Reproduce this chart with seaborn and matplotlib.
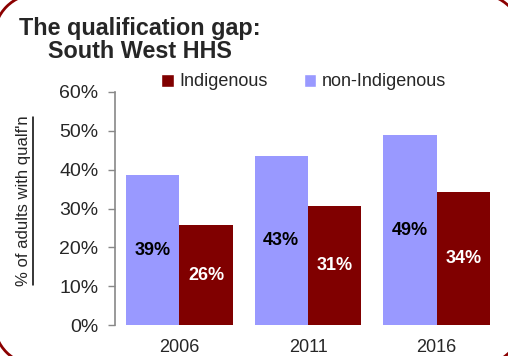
import matplotlib
matplotlib.use("Agg")
import matplotlib.pyplot as plt
from matplotlib.patches import Patch, Arc
from matplotlib.lines import Line2D
from matplotlib.transforms import IdentityTransform
from matplotlib import font_manager
import seaborn as sns
import pandas as pd

years = ["2006", "2011", "2016"]
non_indigenous = [38.6, 43.4, 48.8]
indigenous = [25.7, 30.6, 34.2]
groups = ["non-Indigenous", "Indigenous"]
colors = {"non-Indigenous": "#9999FF", "Indigenous": "#800000"}
y_ticks = [0, 10, 20, 30, 40, 50, 60]

sns.set_style("white")
plt.rcParams["font.family"] = ["Liberation Sans", "DejaVu Sans"]

names = {f.name for f in font_manager.fontManager.ttflist}
narrow = "Liberation Sans Narrow" if "Liberation Sans Narrow" in names else "Liberation Sans"

df = pd.DataFrame({
    "year": years * 2,
    "group": ["non-Indigenous"] * 3 + ["Indigenous"] * 3,
    "value": non_indigenous + indigenous,
})

W, H = 508, 356
fig = plt.figure(figsize=(W / 100, H / 100), dpi=100)

# background layer in pixel units (y down) for the rounded outer frame
bg = fig.add_axes([0, 0, 1, 1], zorder=-1)
bg.set_xlim(0, W)
bg.set_ylim(H, 0)
bg.axis("off")
fl, ft, fr, fb, rad = -6, -6, W + 14, H + 9, 43
frame_kw = dict(color="#8B0000", lw=2, clip_on=False)
for cx, cy, t1, t2 in [(fl + rad, ft + rad, 180, 270), (fr - rad, ft + rad, 270, 360),
                       (fr - rad, fb - rad, 0, 90), (fl + rad, fb - rad, 90, 180)]:
    bg.add_patch(Arc((cx, cy), 2 * rad, 2 * rad, theta1=t1, theta2=t2,
                     edgecolor="#8B0000", lw=2, clip_on=False))
bg.plot([fl + rad, fr - rad], [ft, ft], **frame_kw)
bg.plot([fl + rad, fr - rad], [fb, fb], **frame_kw)
bg.plot([fl, fl], [ft + rad, fb - rad], **frame_kw)
bg.plot([fr, fr], [ft + rad, fb - rad], **frame_kw)

ax = fig.add_axes([115 / W, 1 - 325 / H, (501 - 115) / W, (325 - 92) / H])

sns.barplot(data=df, x="year", y="value", hue="group", hue_order=groups,
            palette=colors, width=0.83, linewidth=0, saturation=1,
            errorbar=None, ax=ax, legend=False)

for cont, col in zip(ax.containers, ["black", "white"]):
    ax.bar_label(cont, labels=[f"{v:.0f}%" for v in cont.datavalues],
                 label_type="center", color=col, fontsize=13, fontweight="bold")

ax.set_xlim(-0.5, 2.5)
ax.set_ylim(0, 60)
ax.set_yticks(y_ticks)
ax.set_yticklabels([f"{t}%" for t in y_ticks], fontsize=14)
ax.tick_params(axis="y", length=5, width=1, color="#888888", pad=7, left=True)
ax.tick_params(axis="x", length=0, labelsize=13, pad=10)
ax.set_xlabel("")
ax.set_ylabel("")
ax.patch.set_alpha(0)
for s in ["top", "right", "bottom"]:
    ax.spines[s].set_visible(False)
ax.spines["left"].set_color("#888888")
ax.spines["left"].set_linewidth(1.2)

# title
fig.text(140 / W, 1 - 17 / H, "The qualification gap:\nSouth West HHS",
         ha="center", va="top", fontsize=16.8, fontweight="bold",
         multialignment="center", linespacing=1.0)

# y label with underline
yl = fig.text(24 / W, 1 - 201 / H, "% of adults with qualf'n", rotation=90,
              ha="center", va="center", fontsize=12, family=[narrow, "DejaVu Sans"])

# legend, Indigenous first
handles = [Patch(facecolor=colors["Indigenous"]), Patch(facecolor=colors["non-Indigenous"])]
fig.legend(handles, ["Indigenous", "non-Indigenous"], ncol=2, frameon=False,
           loc="center left", bbox_to_anchor=(161 / W, 1 - 82 / H),
           handlelength=0.7, handleheight=0.7, handletextpad=0.3, columnspacing=2.0,
           prop={"family": [narrow, "DejaVu Sans"], "size": 13}, borderaxespad=0,
           borderpad=0)

fig.canvas.draw()
bb = yl.get_window_extent()
fig.add_artist(Line2D([bb.x1 + 1, bb.x1 + 1], [bb.y0 + 1, bb.y1 - 1],
                      transform=IdentityTransform(), color="black", lw=1.1))

fig.savefig("out.png", dpi=100)
